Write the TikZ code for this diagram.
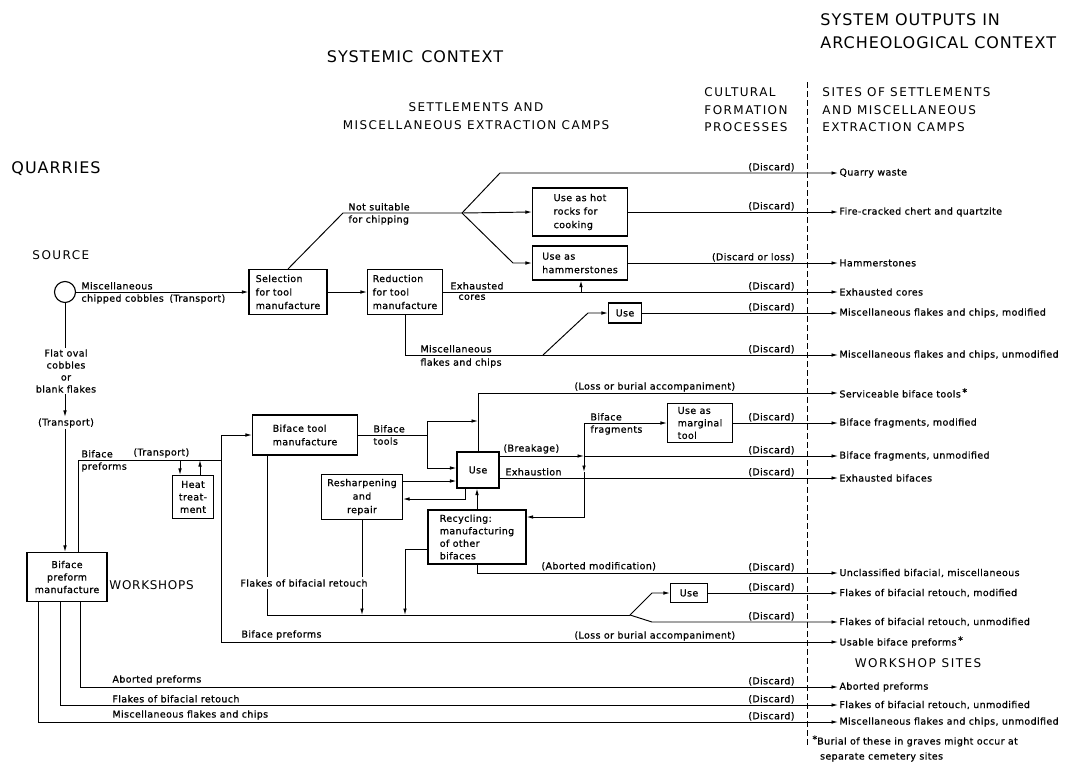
\documentclass[tikz,border=0pt]{standalone}
\usepackage{fontspec}
\usetikzlibrary{arrows.meta}
\newfontfamily\lblfam[LetterSpace=4,FakeBold=0.7]{DejaVu Sans}
\newfontfamily\subfam[LetterSpace=12]{DejaVu Sans}
\newfontfamily\headfam[LetterSpace=6]{DejaVu Sans}
\newcommand\lblsize{\lblfam\fontsize{9.5}{13.5}\selectfont}
\newcommand\lbltight{\lblfam\fontsize{9.5}{12.5}\selectfont}
\newcommand\subsize{\subfam\fontsize{12}{17.5}\selectfont}
\newcommand\headsize{\headfam\fontsize{16}{23}\selectfont}
\newcommand\notestar{\raisebox{2pt}{*}}
\tikzset{
  procbox/.style={draw,line width=1.1pt,font=\lblsize,align=left,inner sep=2pt},
  lbl/.style={font=\lblsize,inner sep=1pt},
  head/.style={font=\headsize,inner sep=0pt},
  subhead/.style={font=\subsize,inner sep=0pt},
  flow/.style={-{Latex[length=6.5pt,width=3.6pt]}},
}
\begin{document}
\begin{tikzpicture}[x=1pt,y=-1pt,line width=0.95pt]
\useasboundingbox[fill=white] (0,0) rectangle (1073,763);
% headings
\node[head] (sysctx) at (415,57) {SYSTEMIC\hspace{0.5em}CONTEXT};
\node[head,anchor=west,align=left] (outctx) at (820,31) {SYSTEM OUTPUTS IN\\ARCHEOLOGICAL CONTEXT};
\node[subhead,align=center] (settle) at (476,116) {SETTLEMENTS AND\\MISCELLANEOUS EXTRACTION CAMPS};
\node[subhead,align=left,anchor=west] (cfp) at (704,110) {CULTURAL\\FORMATION\\PROCESSES};
\node[subhead,align=left,anchor=west] (sites) at (822,110) {SITES OF SETTLEMENTS\\AND MISCELLANEOUS\\EXTRACTION CAMPS};
\node[head,anchor=west] (quar) at (11,169) {QUARRIES};
\node[subhead,anchor=west] (source) at (32,255) {SOURCE};
\node[subhead,anchor=west,font=\headfam\fontsize{12}{14}\selectfont] (wshop) at (109,585) {WORKSHOPS};
\node[subhead] (wsites) at (918,663) {WORKSHOP\hspace{0.5em}SITES};
\draw[dash pattern=on 6pt off 3pt] (807,82) -- (807,746);
% boxes
\node[procbox,circle,minimum size=21pt,inner sep=0pt] (src) at (65,292) {};
\node[procbox,minimum width=78pt,minimum height=45pt] (sel) at (288,292) {Selection\\for tool\\manufacture};
\node[procbox,minimum width=75pt,minimum height=45pt] (red) at (405,292) {Reduction\\for tool\\manufacture};
\node[procbox,minimum width=95pt,minimum height=48pt] (hot) at (580,212) {Use as hot\\rocks for\\cooking};
\node[procbox,minimum width=95pt,minimum height=34pt] (ham) at (580,263) {Use as\\hammerstones};
\node[procbox,minimum width=33pt,minimum height=20pt] (useA) at (625,313) {Use};
\node[procbox,minimum width=105pt,minimum height=40pt] (bif) at (305,435) {Biface tool\\manufacture};
\node[procbox,align=center,font=\lbltight,minimum width=41pt,minimum height=43pt,inner sep=1pt] (heat) at (193,497) {Heat\\treat-\\ment};
\node[procbox,minimum width=42pt,minimum height=36pt] (use) at (478,470) {Use};
\node[procbox,align=center,minimum width=81pt,minimum height=45pt] (resh) at (362,497) {Resharpening\\and\\repair};
\node[procbox,font=\lbltight,minimum width=65pt,minimum height=39pt,inner sep=1pt] (marg) at (700,423) {Use as\\marginal\\tool};
\node[procbox,font=\lbltight,minimum width=98pt,minimum height=54pt,inner sep=1pt] (recy) at (477,537) {Recycling:\\manufacturing\\of other\\bifaces};
\node[procbox,minimum width=37pt,minimum height=19pt] (useB) at (689,593) {Use};
\node[procbox,align=center,font=\lbltight,minimum width=80pt,minimum height=49pt] (pre) at (67,577) {Biface\\preform\\manufacture};
% archeological outputs
\foreach [count=\i] \Y/\T in {173/Quarry waste,212/Fire-cracked chert and quartzite,263/Hammerstones,
  292/Exhausted cores,313/{Miscellaneous flakes and chips, modified},355/{Miscellaneous flakes and chips, unmodified},
  393/{Serviceable biface tools\,\notestar},423/{Biface fragments, modified},456/{Biface fragments, unmodified},
  478/Exhausted bifaces,573/{Unclassified bifacial, miscellaneous},593/{Flakes of bifacial retouch, modified},
  622/{Flakes of bifacial retouch, unmodified},642/{Usable biface preforms\,\notestar},687/Aborted preforms,
  705/{Flakes of bifacial retouch, unmodified},722/{Miscellaneous flakes and chips, unmodified}}
  {\node[lbl,anchor=west] (out\i) at (838,\Y) {\T};}
\coordinate (cfx) at (796,0);
\coordinate (lbx) at (573,0);
\foreach \i/\C in {1/(Discard),2/(Discard),3/(Discard or loss),4/(Discard),5/(Discard),6/(Discard),
  8/(Discard),9/(Discard),10/(Discard),11/(Discard),12/(Discard),13/(Discard),15/(Discard),16/(Discard),17/(Discard)}
  {\node[lbl,anchor=south east] (cf\i) at (out\i.west -| cfx) {\C};}
\foreach \i in {7,14}
  {\node[lbl,anchor=south west] (cf\i) at (out\i.west -| lbx) {(Loss or burial accompaniment)};}
\node[lbl,anchor=north west,align=left,font=\lblfam\fontsize{9.5}{15}\selectfont] (note) at (811,734)
  {\notestar Burial of these in graves might occur at\\\hspace{0.8em}separate cemetery sites};
% quarry source
\draw[flow] (src) -- (sel);
\node[lbl,anchor=south west] (mcc1) at (80,291) {Miscellaneous};
\node[lbl,anchor=north west] (mcc2) at (80,293) {chipped cobbles};
\node[lbl,anchor=north west] (tr0) at (168,293) {(Transport)};
\node[lbl,align=center,font=\lblfam\fontsize{9.5}{12}\selectfont] (flat) at (66,371) {Flat oval\\cobbles\\or\\blank flakes};
\node[lbl] (tr1) at (66,423) {(Transport)};
\draw (src.south) -- (src.south |- flat.north);
\draw[flow] (flat.south -| src) -- (tr1.north -| src);
\draw[flow] (tr1.south -| src) -- (src |- pre.north);
% not suitable for chipping
\coordinate (ns) at (462,213);
\draw (sel.north) -- (343,213) -- (ns);
\node[lbl,anchor=south west] (nsl1) at (347,212) {Not suitable};
\node[lbl,anchor=north west] (nsl2) at (347,214) {for chipping};
\draw[flow] (ns) -- (500,173) -- (out1.west);
\draw[flow] (ns) -- (hot.west);
\draw[flow] (ns) -- (513,263) -- (ham.west);
\draw[flow] (hot.east) -- (out2.west);
\draw[flow] (ham.east) -- (out3.west);
% reduction
\draw[flow] (sel) -- (red);
\draw[flow] (red.east) -- (out4.west);
\node[lbl,anchor=south west] (exc1) at (449,291) {Exhausted};
\node[lbl,anchor=north west] (exc2) at (457,293) {cores};
\coordinate (ec) at (581,292);
\draw[flow] (ec) -- (ec |- ham.south);
\draw[flow] (red.south) |- (out6.west);
\node[lbl,anchor=south west] (mfc1) at (419,354) {Miscellaneous};
\node[lbl,anchor=north west] (mfc2) at (419,357) {flakes and chips};
\coordinate (mf) at (543,355);
\draw[flow] (mf) -- (588,313) -- (useA.west);
\draw[flow] (useA.east) -- (out5.west);
% biface preforms
\coordinate (bp) at (221,460);
\coordinate (bpb) at (221,642);
\draw (pre.north) ++(11,0) |- (bp);
\node[lbl,anchor=south west] (bpl1) at (80,459) {Biface};
\node[lbl,anchor=north west] (bpl2) at (80,461) {preforms};
\node[lbl,anchor=south west] (tr2) at (132,459) {(Transport)};
\coordinate (hin) at ([xshift=-13pt]heat.north);
\coordinate (hout) at ([xshift=7pt]heat.north);
\draw[flow] (hin |- bp) -- (hin);
\draw[flow] (hout) -- (hout |- bp);
\draw[flow] (bpb) |- (bif.west);
\draw[flow] (bpb) -- (out14.west);
\node[lbl,anchor=south west] (bpl3) at (240,641) {Biface preforms};
% biface tools and use
\coordinate (bt) at (427,435);
\coordinate (btt) at (427,421);
\coordinate (btb) at (427,468);
\draw (bif.east) -- (bt);
\node[lbl,anchor=south west] (btl1) at (372,434) {Biface};
\node[lbl,anchor=north west] (btl2) at (372,436) {tools};
\draw[flow] (btb) -- (btt) -- (btt -| use.north);
\draw[flow] (btb) -- (use.west |- btb);
\draw[flow] (use.north) |- (out7.west);
% breakage and exhaustion
\coordinate (brk) at (584,456);
\coordinate (fr) at (584,423);
\coordinate (fm) at (584,472);
\coordinate (fb) at (584,517);
\draw[flow] (use.east |- brk) -- (brk);
\draw[flow] (brk) -- (out9.west);
\draw[flow] (brk) -- (fr) -- (marg.west);
\draw[flow] (brk) -- (fm);
\draw[flow] (fm) -- (fb) -- (recy.east |- fb);
\draw[flow] (marg.east) -- (out8.west);
\draw[flow] (use.east |- out10) -- (out10.west);
\node[lbl,anchor=south west] (brl) at (502,455) {(Breakage)};
\node[lbl,anchor=south west] (exl) at (504,477) {Exhaustion};
\node[lbl,anchor=south west] (bfl1) at (589,422) {Biface};
\node[lbl,anchor=north west] (bfl2) at (589,424) {fragments};
% resharpening and recycling
\coordinate (ry1) at (0,481);
\coordinate (ry2) at (465,499);
\draw[flow] (resh.east |- ry1) -- (use.west |- ry1);
\draw[flow] (ry2 |- use.south) -- (ry2) -- (resh.east |- ry2);
\draw[flow] (recy.north) -- (recy.north |- use.south);
\draw[flow] (recy.south) |- (out11.west);
\node[lbl,anchor=south west] (abm) at (540,572) {(Aborted modification)};
% flakes of bifacial retouch
\coordinate (fl0) at (267,615);
\coordinate (fl1) at (630,615);
\coordinate (rf) at (405,549);
\draw (fl0 |- bif.south) -- (fl0) -- (fl1);
\draw[flow] (resh.south) -- (resh.south |- fl0);
\draw (recy.west |- rf) -- (rf);
\draw[flow] (rf) -- (rf |- fl0);
\draw[flow] (fl1) -- (652,593) -- (useB.west);
\draw[flow] (fl1) -- (652,622) -- (out13.west);
\draw[flow] (useB.east) -- (out12.west);
\node[lbl,fill=white,inner sep=2pt] (fbr) at (304,583) {Flakes of bifacial retouch};
% workshop outputs
\coordinate (p1) at (38,0);
\coordinate (p2) at (60,0);
\coordinate (p3) at (80,0);
\draw[flow] (p3 |- pre.south) |- (out15.west);
\draw[flow] (p2 |- pre.south) |- (out16.west);
\draw[flow] (p1 |- pre.south) |- (out17.west);
\node[lbl,anchor=south west] (wl1) at (111,686) {Aborted preforms};
\node[lbl,anchor=south west] (wl2) at (111,704) {Flakes of bifacial retouch};
\node[lbl,anchor=south west] (wl3) at (111,721) {Miscellaneous flakes and chips};
\end{tikzpicture}
\end{document}
